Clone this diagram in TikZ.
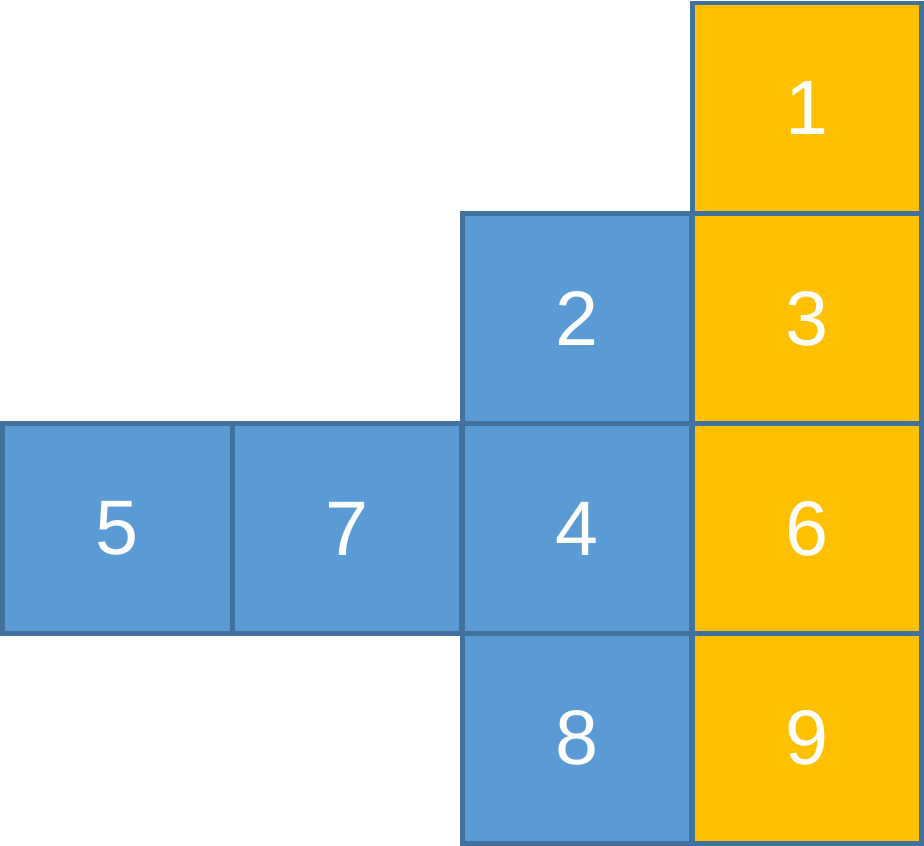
\documentclass[tikz,border=0pt]{standalone}
\usepackage{fontspec}
\setmainfont{Liberation Sans}
\definecolor{cellblue}{HTML}{5B9BD5}
\definecolor{cellgold}{HTML}{FFC000}
\definecolor{celledge}{HTML}{41719C}
\tikzset{
  cell/.style={draw=celledge, line width=1.42pt, minimum width=2.295cm,
    minimum height=2.1cm, inner sep=0pt, outer sep=0pt, text=white,
    font=\fontsize{22}{22}\selectfont},
  bluecell/.style={cell, fill=cellblue},
  goldcell/.style={cell, fill=cellgold}
}
\begin{document}
\begin{tikzpicture}
\useasboundingbox (0,0) rectangle (9.24,8.45);
\node[bluecell] (c5) at (1.1725,3.165) {5};
\node[bluecell] (c7) at (3.4700,3.165) {7};
\node[bluecell] (c4) at (5.7700,3.165) {4};
\node[bluecell] (c2) at (5.7700,5.265) {2};
\node[bluecell] (c8) at (5.7700,1.070) {8};
\node[goldcell] (c1) at (8.0675,7.370) {1};
\node[goldcell] (c3) at (8.0675,5.265) {3};
\node[goldcell] (c6) at (8.0675,3.165) {6};
\node[goldcell] (c9) at (8.0675,1.070) {9};
\end{tikzpicture}
\end{document}
